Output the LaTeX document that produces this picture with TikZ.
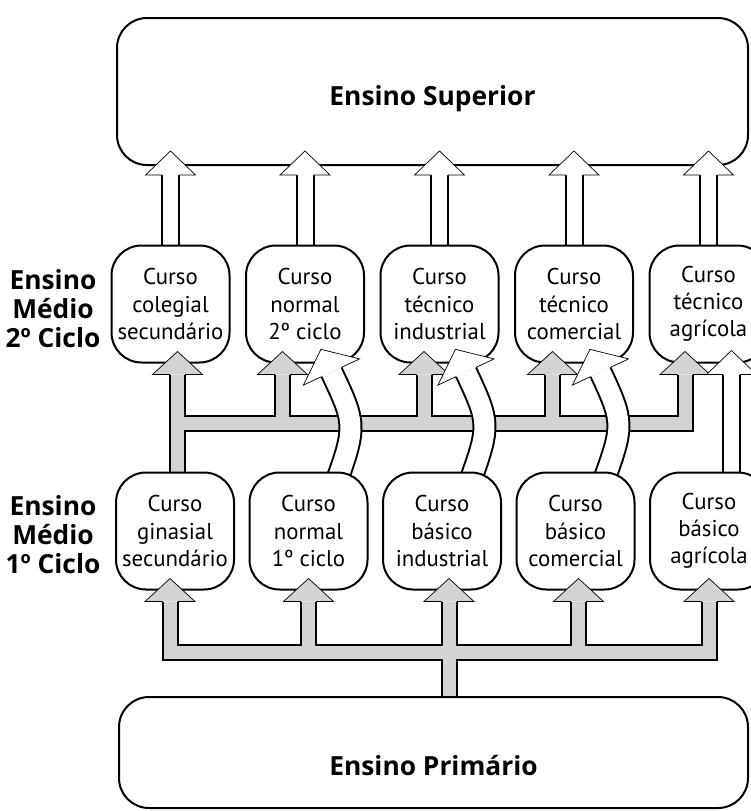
\documentclass[tikz,border=0pt]{standalone}
\usepackage{fontspec}
\setmainfont{PT Sans}
\newfontfamily\levelfont{Open Sans}
\usetikzlibrary{positioning,calc}

\definecolor{busgray}{RGB}{209,211,212}

\pgfdeclarelayer{background}
\pgfsetlayers{background,main}

\begin{document}
\begin{tikzpicture}[line width=0.04cm,
    course node/.style={draw,fill=white,rounded corners=0.6cm,minimum width=2.36cm,minimum height=2.34cm,
      inner sep=0pt,align=center,font=\fontsize{13}{15.5}\selectfont},
    level node/.style={draw,fill=white,rounded corners=0.6cm,font=\levelfont\fontsize{15}{18}\selectfont\bfseries},
    side node/.style={align=center,inner sep=0pt,font=\levelfont\fontsize{15}{16.5}\selectfont\bfseries},
    gray bus/.style={draw=black,line width=0.04cm,double=busgray,double distance=0.26cm},
    white shaft/.style={draw=black,line width=0.04cm,double=white,double distance=0.30cm},
    bent shaft/.style={draw=black,line width=0.04cm,double=white,double distance=0.40cm},
    ghead/.pic={\filldraw[fill=busgray] (-0.15,0) -- (-0.5,0) -- (0,0.46) -- (0.5,0) -- (0.15,0);},
    whead/.pic={\filldraw[fill=white] (-0.17,0) -- (-0.5,0) -- (0,0.48) -- (0.5,0) -- (0.17,0);},
    chead/.pic={\filldraw[fill=white] (-0.22,0) -- (-0.62,0) -- (0,0.5) -- (0.62,0) -- (0.22,0);}]

  \useasboundingbox (0,0) rectangle (15.02,-16.22);

  \node[level node,minimum width=12.62cm,minimum height=2.94cm,text height=0.55cm,text depth=0pt]
    (sup) at (8.65,-1.83) {Ensino Superior};
  \node[level node,minimum width=12.58cm,minimum height=2.22cm,text height=0.9cm,text depth=0pt]
    (prim) at (8.67,-15.05) {Ensino Primário};

  % 2o ciclo
  \node[course node] (t1) at (3.41,-6.08) {Curso\\colegial\\secundário};
  \node[course node] (t2) [right=0.29cm of t1] {Curso\\normal\\2º ciclo};
  \node[course node] (t3) [right=0.29cm of t2] {Curso\\técnico\\industrial};
  \node[course node] (t4) [right=0.29cm of t3] {Curso\\técnico\\comercial};
  \node[course node] (t5) [right=0.29cm of t4] {Curso\\técnico\\agrícola};

  % 1o ciclo
  \node[course node] (b1) at (3.50,-10.62) {Curso\\ginasial\\secundário};
  \node[course node] (b2) [right=0.27cm of b1] {Curso\\normal\\1º ciclo};
  \node[course node] (b3) [right=0.27cm of b2] {Curso\\básico\\industrial};
  \node[course node] (b4) [right=0.27cm of b3] {Curso\\básico\\comercial};
  \node[course node] (b5) [right=0.27cm of b4] {Curso\\básico\\agrícola};

  \node[side node] (m2) at (1.06,-6.18) {Ensino\\Médio\\2º Ciclo};
  \node[side node] (m1) at (1.06,-10.70) {Ensino\\Médio\\1º Ciclo};

  \coordinate (ub) at ($(t1.south)+(0,-1.19)$);
  \coordinate (lb) at ($(b1.south)+(0,-1.23)$);
  \coordinate (hu1) at ($(b1.north |- t1.south)+(0.05,-0.22)$);
  \coordinate (hu2) at ($(t2.south)+(-0.45,-0.22)$);
  \coordinate (hu3) at ($(t3.south)+(-0.31,-0.22)$);
  \coordinate (hu4) at ($(t4.south)+(-0.43,-0.22)$);
  \coordinate (hu5) at ($(t5.south)+(-0.47,-0.22)$);
  \coordinate (hl1) at ($(b1.south)+(-0.1,-0.22)$);
  \coordinate (hl2) at ($(b2.south)+(0,-0.22)$);
  \coordinate (hl3) at ($(b3.south)+(0.14,-0.22)$);
  \coordinate (hl4) at ($(b4.south)+(0.06,-0.22)$);
  \coordinate (hl5) at ($(b5.south)+(0,-0.22)$);
  \coordinate (hw6) at ($(t5.south)+(0.46,-0.22)$);

  \begin{pgfonlayer}{background}
    \draw[gray bus] ($(hu1 |- b1.north)+(0,-0.2)$) -- (hu1)
      (hu1 |- ub) -| (hu5)
      (hu2) -- (hu2 |- ub) (hu3) -- (hu3 |- ub) (hu4) -- (hu4 |- ub);
    \draw[gray bus] (hl1) |- (lb -| hl5) -- (hl5)
      (hl2) -- (hl2 |- lb) (hl3) -- (hl3 |- lb) (hl4) -- (hl4 |- lb)
      (hl3 |- lb) -- ($(hl3 |- prim.north)+(0,-0.2)$);
    \foreach \i in {1,...,5}
      \draw[white shaft] ($(t\i.north)+(0,-0.2)$) -- ($(t\i.north |- sup.south)+(0,-0.18)$);
    \draw[white shaft] ($(hw6 |- b5.north)+(0,-0.2)$) -- (hw6);
    \foreach \i in {2,3,4}
      \draw[bent shaft] ($(b\i.north)+(0.56,-0.2)$) .. controls +(70:1.2) and +(-65:1.1) .. ($(t\i.south)+(0.53,-0.17)$);
  \end{pgfonlayer}

  \foreach \h in {hu1,hu2,hu3,hu4,hu5,hl1,hl2,hl3,hl4,hl5}
    \pic at (\h) {ghead};
  \foreach \i in {1,...,5}
    \pic at ($(t\i.north |- sup.south)+(0,-0.18)$) {whead};
  \pic at (hw6) {whead};
  \foreach \i in {2,3,4}
    \pic[rotate=25] at ($(t\i.south)+(0.53,-0.17)$) {chead};

\end{tikzpicture}
\end{document}
